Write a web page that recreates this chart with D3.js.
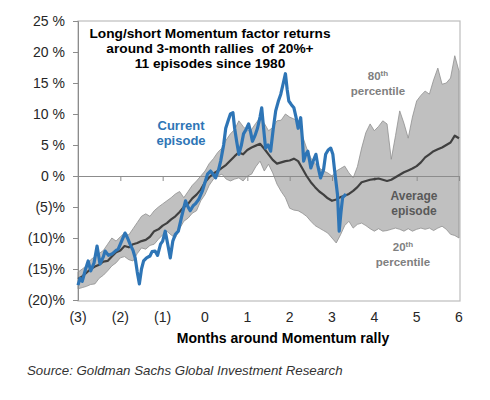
<!DOCTYPE html>
<html>
<head>
<meta charset="utf-8">
<script src="https://cdn.jsdelivr.net/npm/d3@7"></script>
<style>
  body { margin: 0; background: #fff; }
  svg { font-family: "Liberation Sans", Arial, sans-serif; }
</style>
</head>
<body>
<svg id="chart" width="490" height="400"></svg>
<script>
// months around the rally, grid for band and average
var bandMonths = d3.range(-30, 61).map(function(i) { return i / 10; });

var p80 = [-15.5, -15.0, -14.5, -13.5, -13.0, -12.5, -12.0, -11.0, -10.0, -10.5,
  -9.8, -9.2, -9.5, -8.5, -7.5, -6.5, -6.1, -6.5, -5.6, -5.0,
  -4.5, -4.0, -3.5, -2.9, -2.5, -3.5, -2.5, -1.5, -0.8, 0.0,
  0.8, 2.0, 2.8, 3.8, 4.5, 5.8, 6.8, 7.5, 8.9, 8.0,
  7.3, 7.5, 8.5, 9.4, 8.5, 7.3, 7.8, 8.9, 9.0, 10.0,
  9.5, 9.2, 8.9, 6.5, 4.5, 2.9, 2.0, 1.3, 0.8, 0.5,
  0.0, 0.8, 1.2, 1.6, 0.5, -0.3, 1.5, 4.5, 7.0, 8.4,
  7.3, 8.0, 8.9, 8.4, 2.7, 6.5, 10.5, 8.5, 6.1, 9.5,
  12.1, 13.0, 13.7, 13.2, 15.5, 17.4, 14.8, 15.0, 15.8, 19.4,
  16.9];

var p20 = [-18.2, -18.0, -17.8, -17.5, -17.4, -16.5, -16.0, -15.3, -14.5, -14.0,
  -13.2, -13.0, -13.5, -13.7, -12.5, -11.6, -11.8, -11.2, -11.0, -10.2,
  -9.5, -8.9, -9.5, -10.0, -8.5, -7.3, -6.8, -6.0, -5.6, -4.0,
  -3.0, -1.5, -0.5, 0.0, 0.3, -0.5, -0.8, -0.5, -0.3, -0.8,
  0.0, 0.3, 1.5, 2.4, 0.8, 1.9, 0.5, -1.3, -2.5, -3.5,
  -5.2, -5.5, -5.6, -6.0, -6.5, -7.3, -8.0, -8.4, -8.8, -9.2,
  -10.0, -10.8, -9.5, -8.0, -7.3, -8.4, -7.8, -7.6, -8.0, -8.5,
  -8.9, -8.5, -8.9, -8.8, -8.6, -8.4, -8.6, -8.9, -8.5, -8.9,
  -8.6, -8.4, -8.6, -8.4, -8.8, -8.4, -8.1, -8.6, -9.4, -9.6,
  -10.0];

var avg = [-16.6, -16.2, -15.6, -15.0, -14.6, -14.3, -13.8, -13.7, -13.0, -12.3,
  -12.0, -11.3, -11.5, -11.0, -10.8, -10.5, -10.3, -9.8, -8.9, -8.6,
  -8.0, -7.6, -7.0, -6.5, -5.8, -5.0, -4.5, -3.6, -3.0, -2.2,
  -1.0, -0.2, 0.4, 0.8, 1.3, 1.8, 2.5, 3.2, 3.8, 3.5,
  4.2, 4.6, 4.9, 5.2, 4.4, 3.5, 2.6, 2.0, 2.2, 2.4,
  2.5, 2.8, 2.4, 1.2, 0.0, -1.0, -1.8, -2.5, -3.0, -3.6,
  -4.0, -3.8, -3.4, -3.2, -2.9, -2.4, -1.8, -1.0, -0.8, -0.6,
  -0.5, -0.4, -0.6, -0.8, -0.6, -0.2, 0.2, 0.6, 0.9, 1.2,
  1.6, 2.2, 3.0, 3.5, 4.0, 4.3, 4.6, 5.0, 5.4, 6.5,
  6.1];

// current episode
var curMonths = [-3.0, -2.95, -2.9, -2.82, -2.76, -2.7, -2.62, -2.55, -2.48, -2.4,
  -2.36, -2.28, -2.2, -2.1, -2.05, -1.97, -1.89, -1.83, -1.77, -1.7,
  -1.65, -1.6, -1.55, -1.5, -1.45, -1.38, -1.3, -1.25, -1.18, -1.12,
  -1.05, -1.0, -0.94, -0.88, -0.82, -0.76, -0.7, -0.63, -0.55, -0.46,
  -0.4, -0.35, -0.28, -0.23, -0.15, -0.06, 0.0, 0.06, 0.13, 0.2,
  0.25, 0.32, 0.37, 0.44, 0.49, 0.55, 0.6, 0.66, 0.7, 0.75,
  0.8, 0.86, 0.91, 0.97, 1.03, 1.08, 1.12, 1.18, 1.24, 1.3,
  1.34, 1.38, 1.43, 1.49, 1.55, 1.61, 1.67, 1.73, 1.79, 1.85,
  1.9, 1.94, 1.98, 2.04, 2.1, 2.15, 2.2, 2.26, 2.3, 2.33,
  2.38, 2.43, 2.47, 2.5, 2.56, 2.62, 2.67, 2.73, 2.8, 2.85,
  2.91, 2.97, 3.02, 3.06, 3.13, 3.17, 3.21, 3.25, 3.33];
var curValues = [-17.6, -16.5, -17.0, -15.0, -13.7, -15.3, -14.0, -11.3, -14.2, -13.0,
  -12.1, -12.8, -12.6, -12.0, -11.8, -10.5, -9.2, -10.0, -11.0, -12.0,
  -13.2, -15.5, -17.4, -15.0, -13.7, -13.2, -12.9, -12.2, -12.1, -12.8,
  -11.0, -10.5, -8.9, -11.0, -13.2, -10.5, -9.4, -8.9, -6.5, -4.0,
  -5.0, -5.6, -4.8, -4.5, -3.8, -2.4, -1.0, 0.3, 0.8, 0.2,
  -0.3, 1.0, 2.4, 5.0, 7.7, 9.0, 10.0, 10.2, 7.7, 5.5,
  3.5, 5.0, 6.8, 7.5, 8.4, 7.0, 5.6, 6.5, 7.7, 9.5,
  11.0, 8.0, 4.5, 5.0, 4.0, 7.5, 10.5, 12.0, 13.2, 15.0,
  16.5, 14.0, 12.1, 11.5, 11.0, 9.5, 7.7, 9.4, 6.0, 2.4,
  3.5, 4.0, 2.5, 1.3, 2.5, 3.5, 1.5, -0.3, 1.0, 3.5,
  4.2, 4.5, 3.5, 1.0, -3.0, -8.9, -6.0, -3.5, -2.9];

var yTicks = [25, 20, 15, 10, 5, 0, -5, -10, -15, -20];
var xTicks = [-3, -2, -1, 0, 1, 2, 3, 4, 5, 6];

var svg = d3.select("#chart");

var x = d3.scaleLinear().domain([-3, 6]).range([78, 459]);
var y = d3.scaleLinear().domain([-20, 25]).range([300, 21]);

var band = bandMonths.map(function(m, i) {
  return { m: m, hi: p80[i], lo: p20[i], avg: avg[i] };
});
var current = curMonths.map(function(m, i) {
  return { m: m, v: curValues[i] };
});

// plot frame
svg.append("rect")
  .attr("x", x(-3))
  .attr("y", y(25))
  .attr("width", x(6) - x(-3) + 1)
  .attr("height", y(-20) - y(25) + 1)
  .attr("fill", "none")
  .attr("stroke", "#bdbdbd")
  .attr("stroke-width", 1.2);

// 20th-80th percentile band
svg.append("path")
  .datum(band)
  .attr("fill", "#c0c0c0")
  .attr("stroke", "#8f8f8f")
  .attr("stroke-width", 0.8)
  .attr("d", d3.area()
    .x(function(d) { return x(d.m); })
    .y0(function(d) { return y(d.lo); })
    .y1(function(d) { return y(d.hi); }));

// zero line with month ticks
svg.append("g")
  .attr("transform", "translate(0," + y(0) + ")")
  .call(d3.axisBottom(x).tickValues(xTicks).tickSize(5).tickFormat(""))
  .call(function(g) {
    g.select(".domain").attr("stroke", "#8c8c8c");
    g.selectAll(".tick line").attr("stroke", "#8c8c8c");
  });

// left axis
svg.append("g")
  .attr("transform", "translate(" + x(-3) + ",0)")
  .call(d3.axisLeft(y).tickValues(yTicks).tickSize(5).tickPadding(8)
    .tickFormat(function(v) {
      if (v < 0) return "(" + (-v) + ")%";
      return v + " %";
    }))
  .call(function(g) {
    g.select(".domain").attr("stroke", "#8c8c8c");
    g.selectAll(".tick line").attr("stroke", "#8c8c8c");
    g.selectAll("text")
      .attr("font-size", 14)
      .attr("font-family", "Liberation Sans, Arial, sans-serif")
      .attr("fill", "#262626");
  });

// month labels below the plot
svg.append("g")
  .selectAll("text")
  .data(xTicks)
  .enter()
  .append("text")
  .attr("x", function(d) { return x(d); })
  .attr("y", 322)
  .attr("text-anchor", "middle")
  .attr("font-size", 14)
  .attr("fill", "#262626")
  .text(function(d) { return d < 0 ? "(" + (-d) + ")" : d; });

// average episode
svg.append("path")
  .datum(band)
  .attr("fill", "none")
  .attr("stroke", "#404040")
  .attr("stroke-width", 2.2)
  .attr("stroke-linejoin", "round")
  .attr("d", d3.line()
    .x(function(d) { return x(d.m); })
    .y(function(d) { return y(d.avg); }));

// current episode
svg.append("path")
  .datum(current)
  .attr("fill", "none")
  .attr("stroke", "#2e75b6")
  .attr("stroke-width", 3.2)
  .attr("stroke-linejoin", "round")
  .attr("d", d3.line()
    .x(function(d) { return x(d.m); })
    .y(function(d) { return y(d.v); }));

// title
var title = ["Long/short Momentum factor returns",
  "around 3-month rallies  of 20%+",
  "11 episodes since 1980"];
svg.append("g")
  .selectAll("text")
  .data(title)
  .enter()
  .append("text")
  .attr("x", 210)
  .attr("y", function(d, i) { return 38 + i * 15; })
  .attr("text-anchor", "middle")
  .attr("font-size", 13.7)
  .attr("font-weight", "bold")
  .attr("fill", "#000")
  .style("white-space", "pre")
  .text(function(d) { return d; });

// series labels
function label(lines, cx, cy, color, size, weight) {
  svg.append("g")
    .selectAll("text")
    .data(lines)
    .enter()
    .append("text")
    .attr("x", cx)
    .attr("y", function(d, i) { return cy + i * 15; })
    .attr("text-anchor", "middle")
    .attr("font-size", size)
    .attr("font-weight", weight)
    .attr("fill", color)
    .text(function(d) { return d; });
}

label(["Current", "episode"], 181, 130, "#2e75b6", 13, "bold");
label(["Average", "episode"], 414, 200, "#595959", 12, "bold");
label(["percentile"], 378, 95, "#808080", 11.5, "bold");
label(["percentile"], 403, 266, "#808080", 11.5, "bold");

// superscripted ordinals
[["80", 378, 80], ["20", 403, 251]].forEach(function(o) {
  var t = svg.append("text")
    .attr("x", o[1])
    .attr("y", o[2])
    .attr("text-anchor", "middle")
    .attr("font-size", 11.5)
    .attr("font-weight", "bold")
    .attr("fill", "#808080");
  t.append("tspan").text(o[0]);
  t.append("tspan").attr("font-size", 8).attr("dy", -4).text("th");
});

// axis title
svg.append("text")
  .attr("x", 283)
  .attr("y", 343)
  .attr("text-anchor", "middle")
  .attr("font-size", 14)
  .attr("font-weight", "bold")
  .attr("fill", "#000")
  .text("Months around Momentum rally");

// source
svg.append("text")
  .attr("x", 27)
  .attr("y", 375)
  .attr("font-size", 13.3)
  .attr("font-style", "italic")
  .attr("fill", "#333")
  .text("Source: Goldman Sachs Global Investment Research");
</script>
</body>
</html>
